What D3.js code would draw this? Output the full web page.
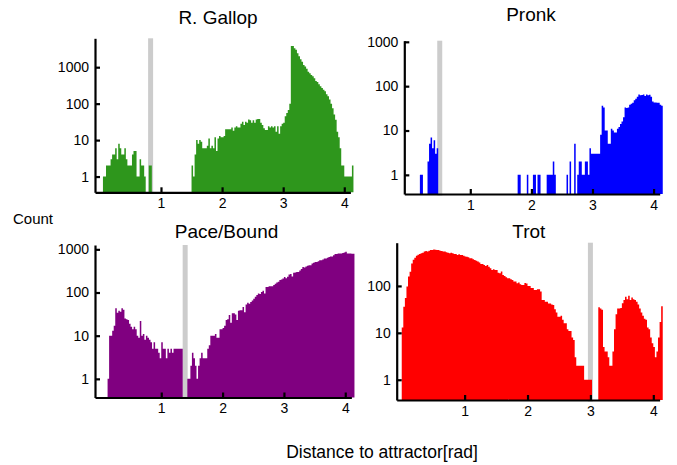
<!DOCTYPE html>
<html>
<meta charset="utf-8">
<script src="https://d3js.org/d3.v7.min.js"></script>
<style>
  body { margin: 0; background: #fff; }
  svg text { font-family: "Liberation Sans", Arial, sans-serif; fill: #000; }
</style>
<body>
<div id="chart"></div>
<script>

// histogram bins: width 0.025 rad, first bin starts at 0
var binWidth = 0.025;

var gallopCounts = [
  0,0,1,1,2,2,2,3,4,4, 6,3,8,6,4,4,6,3,2,2,
  2,4,5,5,1,1,3,2,2,1, 0,0,2,2,0,0,0,0,0,0,
  0,0,0,0,0,0,0,0,0,0, 0,0,0,0,0,0,0,0,0,0,
  2,1,4,10,8,10,9,6,6,6, 7,11,6,7,6,12,5,11,13,12,
  12,13,20,20,20,20,22,18,22,24, 22,22,28,32,26,32,30,37,35,30,
  35,30,37,38,38,30,26,21,19,19, 24,22,24,22,24,17,24,15,24,28,
  30,45,55,67,100,3800,3800,3300,3000,2400, 2000,1650,1400,1150,1050,900,750,680,610,560,
  500,420,390,340,300,270,240,220,180,160, 130,100,75,50,36,17,12,6,2,2,
  1,1,1,1,1,2
];

var pronkCounts = [
  0,0,0,0,0,0,0,1,1,0, 0,0,2,5,7,4,6,3,4,0,
  0,0,0,0,0,0,0,0,0,0, 0,0,0,0,0,0,0,0,0,0,
  0,0,0,0,0,0,0,0,0,0, 0,0,0,0,0,0,0,0,0,0,
  0,0,0,0,0,0,0,0,0,0, 0,1,1,0,0,0,0,1,0,0,
  0,1,1,0,1,1,0,0,0,0, 1,1,1,1,2,1,0,0,0,0,
  0,0,0,1,0,2,0,0,5,0, 1,2,2,1,1,2,2,1,4,3,
  3,3,3,3,3,8,36,33,10,10, 5,5,11,10,9,9,11,12,14,16,
  20,33,32,33,38,40,42,48,52,58, 65,62,63,65,60,65,62,64,58,45,
  43,43,42,42,38,36
];

var paceCounts = [
  0,0,0,0,0,1,10,10,13,17, 43,34,38,36,43,40,25,24,23,19,
  16,14,16,14,10,9,22,10,11,8, 10,9,8,7,5,7,5,5,4,3,
  7,5,5,3,5,4,5,4,5,5, 5,5,5,5,0,0,0,1,1,2,
  4,3,2,1,2,3,4,3,3,3, 5,6,10,10,10,11,9,9,14,14,
  15,17,23,24,30,20,33,33,31,23, 38,39,39,46,35,53,58,55,60,65,
  72,80,88,95,92,103,110,95,135,135, 140,140,140,150,160,170,177,195,200,210,
  230,215,233,260,270,235,285,290,300,300, 325,350,390,380,400,415,430,430,470,490,
  510,510,530,560,560,580,610,610,640,660, 680,680,730,780,780,800,800,800,820,850,
  880,800,800,800,790,790
];

var trotCounts = [
  13,36,55,97,158,200,300,360,400,440, 460,480,495,512,540,556,540,565,583,583,
  600,590,583,580,565,556,540,540,520,512, 495,512,495,480,480,457,472,457,457,440,
  425,420,407,388,388,369,357,346,330,314, 294,294,280,267,280,258,238,219,226,219,
  219,192,186,202,171,163,153,146,146,139, 134,124,124,114,118,108,105,105,115,112,
  100,100,90,90,82,82,85,85,76,50, 50,46,46,42,42,40,39,32,27,22,
  22,23,19,16,16,12,11,11,8,7, 3,2,2,2,2,2,1,1,1,1,
  1,0,0,0,0,35,33,31,5,4, 4,3,2,2,4,12,25,33,33,34,
  43,50,59,52,62,50,57,52,50,46, 40,33,27,23,20,19,13,12,8,6,
  5,3,4,8,17,37
];

var titles = ["R. Gallop", "Pronk", "Pace/Bound", "Trot"];
var attractorLines = [0.83, 0.5, 1.39, 3.0];
var xTickValues = [1, 2, 3, 4];
var yTickSets = [[1, 10, 100, 1000], [1, 10, 100, 1000], [1, 10, 100, 1000], [1, 10, 100]];
var yMaxima = [6200, 1060, 1260, 835];

var colors = ["#2e961c", "#0000ff", "#800080", "#ff0000"];
var allCounts = [gallopCounts, pronkCounts, paceCounts, trotCounts];

// panel frames in pixels (left, right, top, bottom of the axes)
var frames = [
  {l: 95,    r: 350.4, t: 38.3,  b: 192.3, tx: 218, ty: 24},
  {l: 404.3, r: 659.7, t: 40.7,  b: 194,   tx: 531, ty: 21},
  {l: 95,    r: 351.4, t: 245,   b: 397.5, tx: 226.5, ty: 237.5},
  {l: 396.7, r: 659.6, t: 242.7, b: 400,   tx: 528.8, ty: 237.5}
];

var W = 677, H = 465;
var svg = d3.select("#chart").append("svg")
    .attr("width", W)
    .attr("height", H);

frames.forEach(function(f, i) {
  var counts = allCounts[i];
  var x = d3.scaleLinear().domain([-0.08, 4.1]).range([f.l, f.r]);
  var y = d3.scaleLog().domain([0.37, yMaxima[i]]).range([f.b, f.t]);

  var g = svg.append("g");

  // grey marker of the attractor position
  g.append("rect")
      .attr("x", x(attractorLines[i]) - 2.5)
      .attr("y", f.t)
      .attr("width", 5)
      .attr("height", f.b - f.t + 1.5)
      .style("fill", "#cccccc");

  var bins = counts.map(function(c, k) {
    return {x0: k * binWidth, x1: (k + 1) * binWidth, n: c};
  }).filter(function(d) { return d.n > 0; });

  // all bars of one histogram in a single path -> no seams between bars
  var p = d3.path();
  bins.forEach(function(d) {
    p.rect(x(d.x0), y(d.n), x(d.x1) - x(d.x0), f.b - y(d.n));
  });
  g.append("path")
      .attr("d", p.toString())
      .style("fill", colors[i]);

  // axes, ticks pointing inwards
  var xAxis = g.append("g")
      .attr("transform", "translate(0," + f.b + ")")
      .call(d3.axisBottom(x).tickValues(xTickValues).tickSize(-5).tickSizeOuter(0)
        .tickPadding(6).tickFormat(d3.format("d")));
  var yAxis = g.append("g")
      .attr("transform", "translate(" + f.l + ",0)")
      .call(d3.axisLeft(y).tickValues(yTickSets[i]).tickSize(-5).tickSizeOuter(0)
        .tickPadding(6).tickFormat(d3.format("d")));

  [xAxis, yAxis].forEach(function(a) {
    a.select(".domain").style("stroke", "#000").style("stroke-width", 2.2);
    a.selectAll(".tick line").style("stroke", "#000").style("stroke-width", 2.2);
    a.selectAll(".tick text").style("font-size", "14px").style("fill", "#000");
  });

  svg.append("text")
      .attr("x", f.tx)
      .attr("y", f.ty)
      .attr("text-anchor", "middle")
      .style("font-size", "19px")
      .text(titles[i]);
});

svg.append("text")
    .attr("x", 33)
    .attr("y", 224)
    .attr("text-anchor", "middle")
    .style("font-size", "15px")
    .text("Count");

svg.append("text")
    .attr("x", 382)
    .attr("y", 458)
    .attr("text-anchor", "middle")
    .style("font-size", "17.5px")
    .text("Distance to attractor[rad]");

</script>
</body>
</html>
